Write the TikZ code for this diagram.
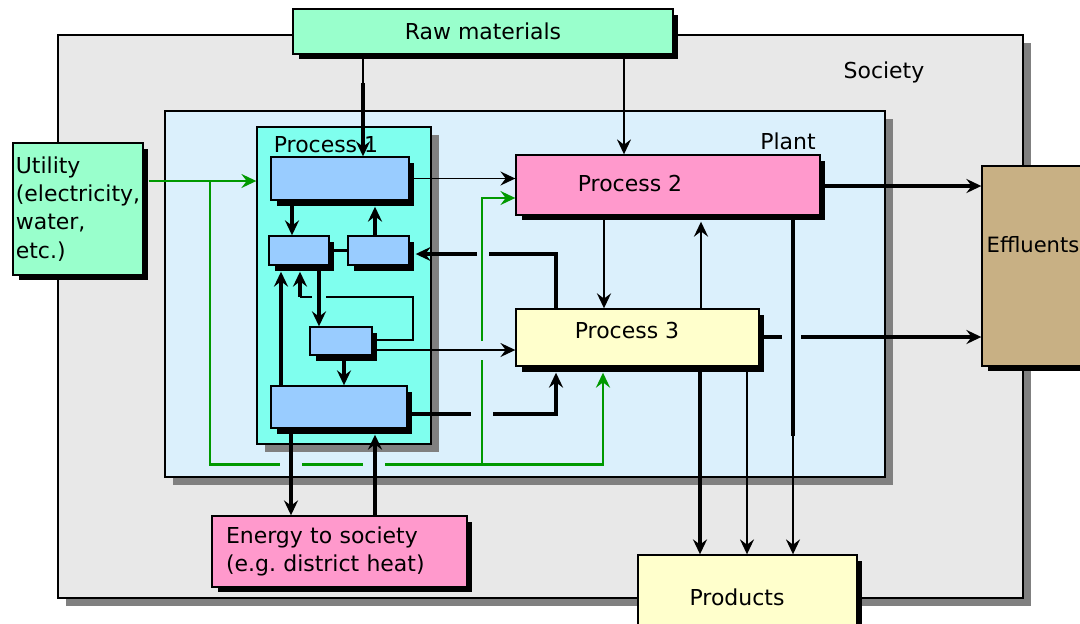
\documentclass[tikz,border=0pt]{standalone}
\usepackage{fontspec}
\setmainfont{DejaVu Sans}
\usepackage{tikz}
\usetikzlibrary{arrows.meta,shadows,calc}
\definecolor{societygray}{RGB}{232,232,232}
\definecolor{shadowgray} {RGB}{128,128,128}
\definecolor{plantblue}  {RGB}{219,240,252}
\definecolor{proccyan}   {RGB}{127,255,238}
\definecolor{subblue}    {RGB}{153,204,255}
\definecolor{mintgreen}  {RGB}{153,255,204}
\definecolor{procpink}   {RGB}{255,153,204}
\definecolor{procyellow} {RGB}{255,255,204}
\definecolor{effltan}    {RGB}{200,176,132}
\definecolor{utilgreen}  {RGB}{0,153,0}
\tikzset{
  shbox/.style ={draw=black, line width=0.8pt, inner sep=0pt,
                 drop shadow={shadow xshift=0.11cm, shadow yshift=-0.11cm,
                              fill=black, opacity=1}},
  grbox/.style ={draw=black, line width=0.8pt, inner sep=0pt,
                 drop shadow={shadow xshift=0.16cm, shadow yshift=-0.16cm,
                              fill=shadowgray, opacity=1}},
  subbox/.style={shbox, fill=subblue},
  lbl/.style   ={inner sep=0pt},
  thn/.style   ={line width=0.8pt},
  med/.style   ={line width=1.5pt},
  thk/.style   ={line width=2.1pt},
  arr/.style   ={-{Stealth[length=8.5pt, width=8pt, inset=3pt]}},
  grn/.style   ={draw=utilgreen, line width=0.9pt},
  grnk/.style  ={draw=utilgreen, line width=1.7pt},
}
\begin{document}
\begin{tikzpicture}[x=0.02cm, y=-0.02cm, font=\fontsize{12.5}{16}\selectfont]
\useasboundingbox[fill=white] (0,0) rectangle (1080,623);

%% --- containers -------------------------------------------------------------
\node[grbox, fill=societygray, minimum width=19.3cm, minimum height=11.26cm]
  (society) at (540.5,316.5) {};
\node[lbl] (societytitle) at (884,72) {Society};

\node[shbox, fill=mintgreen, minimum width=7.6cm, minimum height=0.9cm]
  (raw) at (483,31.5) {Raw materials};
\node[shbox, fill=mintgreen, minimum width=2.6cm, minimum height=2.64cm, align=left]
  (utility) at (78,209) {Utility\\(electricity,\\water,\\etc.)};

\node[grbox, fill=plantblue, minimum width=14.4cm, minimum height=7.32cm]
  (plant) at (525,294) {};
\node[lbl] (planttitle) at (788,141) {Plant};

\node[grbox, fill=proccyan, minimum width=3.48cm, minimum height=6.34cm]
  (proc1) at (344,285.5) {};
\node[lbl] (proc1title) at (326,145) {Process 1};

%% --- process 1 units ---------------------------------------------------------
\node[subbox, minimum width=2.76cm, minimum height=0.86cm] (p1top)   at (340,178.5) {};
\node[subbox, minimum width=1.2cm,  minimum height=0.58cm] (p1left)  at (299,250.5) {};
\node[subbox, minimum width=1.22cm, minimum height=0.58cm] (p1right) at (378.5,250.5) {};
\node[subbox, minimum width=1.24cm, minimum height=0.56cm] (p1mid)   at (341,341) {};
\node[subbox, minimum width=2.72cm, minimum height=0.84cm] (p1bot)   at (339,407) {};

%% --- other processes and outputs --------------------------------------------
\node[shbox, fill=procpink, minimum width=6.08cm, minimum height=1.2cm,
      label={[lbl, xshift=-0.76cm, yshift=0.04cm]center:Process 2}]
  (proc2) at (668,185) {};
\node[shbox, fill=procyellow, minimum width=4.86cm, minimum height=1.14cm,
      label={[lbl, xshift=-0.21cm, yshift=0.15cm]center:Process 3}]
  (proc3) at (637.5,337.5) {};
\node[shbox, fill=effltan, minimum width=2.36cm, minimum height=4cm,
      label={[lbl, font=\fontsize{12}{15}\selectfont, xshift=-0.16cm, yshift=0.42cm]center:Effluents}]
  (effl) at (1041,266) {};
\node[shbox, fill=procpink, minimum width=5.1cm, minimum height=1.42cm,
      inner xsep=0.28cm, text width=4.54cm, align=left]
  (energy) at (339.5,551.5) {Energy to society\\(e.g.\ district heat)};
\node[shbox, fill=procyellow, minimum width=4.38cm, minimum height=1.7cm,
      label={[lbl, xshift=-0.21cm]center:Products}]
  (products) at (747.5,597.5) {};

%% --- raw materials ------------------------------------------------------------
\draw[thn] (363,0 |- raw.south) -- (363,83);
\draw[thk, arr] (363,83) -- (363,0 |- p1top.north);
\draw[thn, arr] (624,0 |- raw.south) -- (624,0 |- proc2.north);

%% --- utility (green) ------------------------------------------------------------
\draw[grn, arr] ($(utility.east |- 0,181)+(5,0)$) -- (proc1.west |- 0,181);
\draw[grnk] (210,181) -- (210,464) -- (280,464);
\draw[grnk] (302,464) -- (363,464);
\draw[grnk, arr] (385,464) -- (603,464) -- ($(603,0 |- proc3.south)+(0,6)$);
\draw[grn] (482,464) -- (482,360);
\draw[grn, arr] (482,341) -- (482,198) -- (proc2.west |- 0,198);

%% --- inside process 1 ------------------------------------------------------------
\draw[thn, arr] (p1top.east) -- (p1top.east -| proc2.west);
\draw[thk, arr] (292,0 |- p1top.south) -- (292,0 |- p1left.north);
\draw[thk, arr] (375,0 |- p1right.north) -- ($(375,0 |- p1top.south)+(0,6)$);
\draw[thk] (p1left.east) -- (p1right.west);
\draw[thk, arr] (319,0 |- p1left.south) -- (319,0 |- p1mid.north);
\draw[thk, arr] (344,0 |- p1mid.south) -- (344,0 |- p1bot.north);
\draw[thk, arr] (281,0 |- p1bot.north) -- ($(281,0 |- p1left.south)+(0,6)$);
\draw[thn] (p1mid.east |- 0,340) -- (413,340) -- (413,297) -- (326,297);
\draw[thn] (312,297) -- (300,297);
\draw[thk, arr] (300,297) -- ($(300,0 |- p1left.south)+(0,6)$);
\draw[thn, arr] (p1mid.east |- 0,350) -- (proc3.west |- 0,350);

%% --- process 1 <-> process 3 ------------------------------------------------------
\draw[thk] (556,0 |- proc3.north) -- (556,254) -- (489,254);
\draw[thk, arr] (477,254) -- ($(p1right.east |- 0,254)+(6,0)$);
\draw[thk] (p1bot.east |- 0,414) -- (471,414);
\draw[thk, arr] (493,414) -- (556,414) -- ($(556,0 |- proc3.south)+(0,6)$);

%% --- energy to society ----------------------------------------------------------------
\draw[thk, arr] (291,0 |- p1bot.south) -- (291,0 |- energy.north);
\draw[thk, arr] (375,0 |- energy.north) -- ($(375,0 |- p1bot.south)+(0,6)$);

%% --- process 2 <-> process 3 ------------------------------------------------------
\draw[med, arr] (604,0 |- proc2.south) -- (604,0 |- proc3.north);
\draw[med, arr] (701,0 |- proc3.north) -- ($(701,0 |- proc2.south)+(0,6)$);

%% --- effluents and products --------------------------------------------------------
\draw[thk, arr] (proc2.east |- 0,186) -- (effl.west |- 0,186);
\draw[thk] (proc3.east |- 0,337) -- (782,337);
\draw[thk, arr] (801,337) -- (effl.west |- 0,337);
\draw[thk] (793,0 |- proc2.south) -- (793,436);
\draw[thn, arr] (793,436) -- (793,0 |- products.north);
\draw[thk, arr] (700,0 |- proc3.south) -- (700,0 |- products.north);
\draw[thn, arr] (747,0 |- proc3.south) -- (747,0 |- products.north);

\end{tikzpicture}
\end{document}
